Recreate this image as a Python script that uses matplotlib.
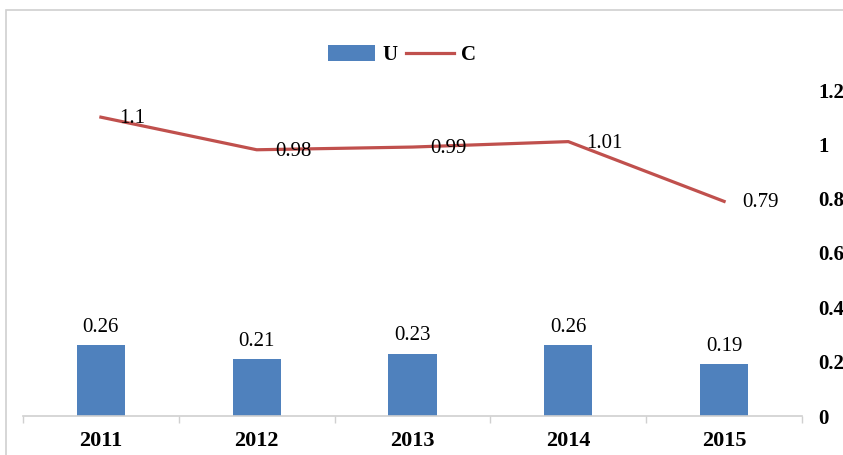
import matplotlib
matplotlib.use('Agg')
import matplotlib.pyplot as plt
from matplotlib.patches import Rectangle
import numpy as np

# datos
years = ['2011', '2012', '2013', '2014', '2015']
u_vals = [0.26, 0.21, 0.23, 0.26, 0.19]
c_vals = [1.1, 0.98, 0.99, 1.01, 0.79]
y_ticks = [0, 0.2, 0.4, 0.6, 0.8, 1, 1.2]
y_labels = ['0', '0.2', '0.4', '0.6', '0.8', '1', '1.2']

plt.rcParams['font.family'] = ['Liberation Serif', 'DejaVu Serif']
FS = 15

W, H = 843, 455
fig = plt.figure(figsize=(W / 100, H / 100), dpi=100)
fig.patch.set_facecolor('white')

# marco exterior del area del grafico
fig.patches.append(Rectangle((6 / W, -0.2), 1.2, (H - 10) / H + 0.2,
                             transform=fig.transFigure, fill=False,
                             edgecolor='#d0d0d0', linewidth=1.2))

ax = fig.add_axes([23 / W, (H - 416) / H, 779 / W, 326 / H])
x = np.arange(len(years))

bars = ax.bar(x, u_vals, width=0.31, color='#4f81bd', label='U', zorder=2)
line, = ax.plot(x, c_vals, color='#c0504d', linewidth=2.3, label='C', zorder=3)

ax.set_xlim(-0.5, len(years) - 0.5)
ax.set_ylim(0, 1.2)

for xi, v in zip(x, u_vals):
    ax.annotate(f'{v:g}', (xi, v), xytext=(0, 6), textcoords='offset points',
                ha='center', va='bottom', fontsize=FS)
for xi, v in zip(x, c_vals):
    ax.annotate(f'{v:g}', (xi, v), xytext=(13, -1), textcoords='offset points',
                ha='left', va='center', fontsize=FS)

# eje y a la derecha, sin linea
ax.yaxis.tick_right()
ax.set_yticks(y_ticks)
ax.set_yticklabels(y_labels, fontsize=FS, fontweight='bold')
ax.tick_params(axis='y', length=0, pad=12)

# eje x: linea gris con marcas entre categorias
ax.set_xticks(x)
ax.set_xticklabels(years, fontsize=FS + 1, fontweight='bold')
ax.tick_params(axis='x', length=0, pad=11)
ax.set_xticks(np.arange(-0.5, len(years)), minor=True)
ax.tick_params(axis='x', which='minor', length=5, color='#d0d0d0', width=1)

for side in ['top', 'left', 'right']:
    ax.spines[side].set_visible(False)
ax.spines['bottom'].set_color('#d0d0d0')
ax.spines['bottom'].set_linewidth(1.2)

leg = fig.legend(handles=[bars, line], labels=['U', 'C'], loc='center',
                 bbox_to_anchor=(402 / W, (H - 55) / H), ncol=2, frameon=False,
                 handlelength=2.3, handleheight=0.8,
                 handletextpad=0.35, columnspacing=0.4,
                 prop={'weight': 'bold', 'size': FS})

plt.savefig('out.png', dpi=100)
plt.close(fig)
